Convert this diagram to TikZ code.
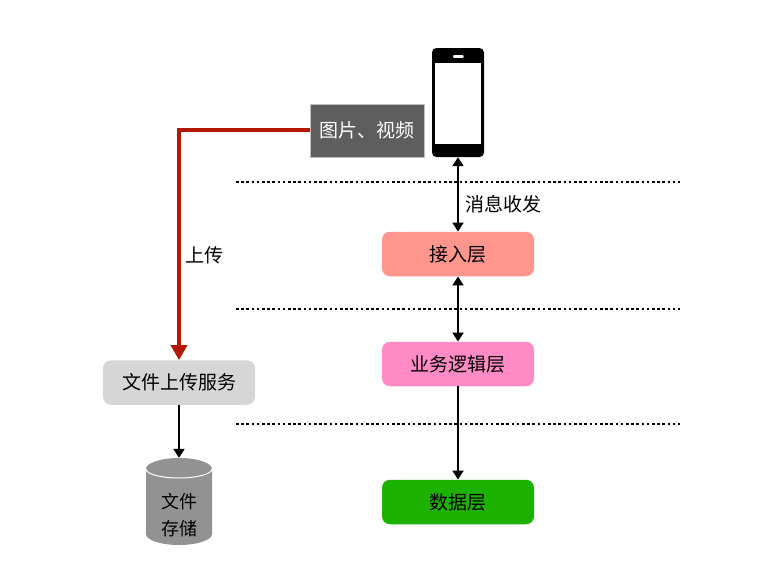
\documentclass[tikz,border=0pt]{standalone}
\usepackage{fontspec}
\setmainfont{Noto Sans CJK SC}
\usetikzlibrary{arrows.meta,calc,positioning}
\definecolor{redline}{HTML}{B51700}
\definecolor{greybox}{HTML}{5E5E5E}
\definecolor{svc}{HTML}{D6D6D6}
\definecolor{cylc}{HTML}{929292}
\tikzset{
  layer/.style={rounded corners=8pt,minimum width=152pt,minimum height=44.5pt,inner sep=0pt,font=\fontsize{19pt}{22pt}\selectfont,text=black},
  lbl/.style={inner sep=0pt,font=\fontsize{19pt}{22pt}\selectfont,text=black},
  conn/.style={line width=2pt,black,-{Triangle[length=9pt,width=11pt]}},
  dconn/.style={line width=2pt,black,{Triangle[length=9pt,width=11pt]}-{Triangle[length=9pt,width=11pt]}},
  sep/.style={line width=1.15pt,black,dash pattern=on 2.6pt off 2.6pt},
}
\begin{document}
\begin{tikzpicture}[x=1pt,y=-1pt]
\useasboundingbox (0,0) rectangle (774,562);
\fill[white] (0,0) rectangle (774,562);
% separators
\foreach \n/\yy in {a/182,b/309,c/424}{
  \coordinate (sl\n) at (236,\yy);
  \coordinate (sr\n) at (680,\yy);
  \draw[sep] (sl\n) -- (sr\n);
}
% phone
\node[draw=none,fill=black,rounded corners=4.5pt,minimum width=52pt,minimum height=109pt,inner sep=0pt] (phone) at (458,102.5) {};
\fill[white] (435,63) rectangle (481,144);
\fill[white,rounded corners=0.8pt] (453,55.2) rectangle (463.5,57.8);
% image/video box
\node[fill=greybox,draw=black!25!white,line width=0.5pt,minimum width=114pt,minimum height=53pt,inner sep=0pt,text=white,font=\fontsize{19pt}{22pt}\selectfont] (media) at (367,130.5) {图片、视频};
% layers
\node[layer,fill=svc] (svc) at (179,382.5) {文件上传服务};
\node[layer,fill={rgb,255:red,255;green,150;blue,141}] (access) at (458,254) {接入层};
\node[layer,fill={rgb,255:red,255;green,138;blue,198}] (logic) at (458,364) {业务逻辑层};
\node[layer,fill={rgb,255:red,29;green,177;blue,0}] (data) at (458,502) {数据层};
% cylinder
\fill[cylc] (146,469) -- (146,534) arc[start angle=180,end angle=360,x radius=33pt,y radius=11pt] -- (212,469) arc[start angle=0,end angle=180,x radius=33pt,y radius=11pt] -- cycle;
\draw[white,line width=1pt] (146,469) arc[start angle=180,end angle=360,x radius=33pt,y radius=9pt];
\node[minimum width=66pt,minimum height=87pt,inner sep=0pt] (store) at (179,501.5) {};
\node[lbl,align=center,font=\fontsize{18pt}{27pt}\selectfont] (storetxt) at (179,515) {文件\\存储};
% connectors
\coordinate (bend) at (179,130);
\draw[redline,line width=3.5pt,-{Triangle[length=15pt,width=16pt]}] (media.west |- bend) -- (bend) -- (svc.north);
\draw[conn] (svc.south) -- (store.north);
\draw[dconn] (phone.south) -- (access.north);
\draw[dconn] (access.south) -- (logic.north);
\draw[conn] (logic.south) -- (data.north);
% labels
\node[lbl] (msg) at (503,204) {消息收发};
\node[lbl] (up) at (204.5,255) {上传};
\end{tikzpicture}
\end{document}
